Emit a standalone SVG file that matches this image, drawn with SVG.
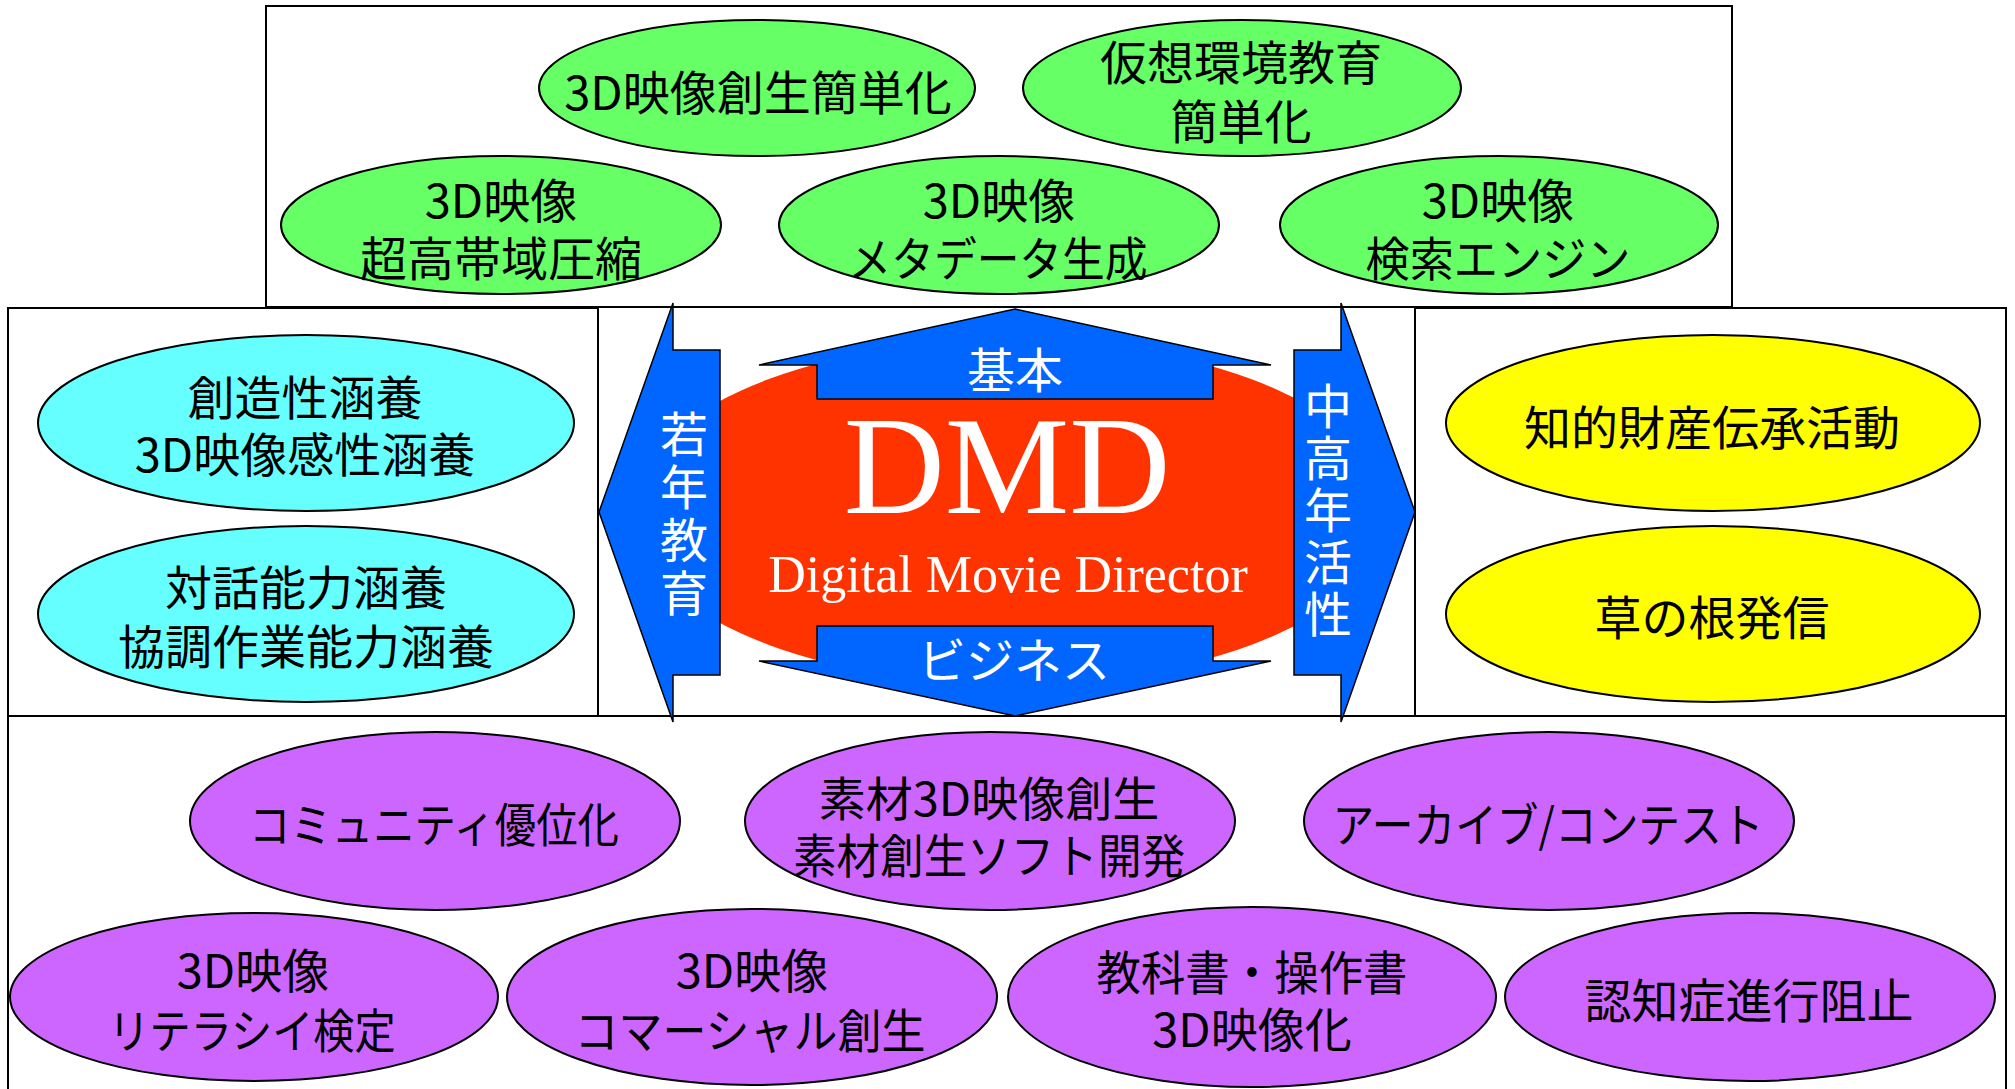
<svg xmlns="http://www.w3.org/2000/svg" width="2015" height="1089" viewBox="0 0 2015 1089">
<style>
.box{fill:none;stroke:#000;stroke-width:2}
.e{stroke:#000;stroke-width:2}
.g{fill:#66FF66}.c{fill:#66FFFF}.y{fill:#FFFF00}.p{fill:#CC66FF}
.t{font-family:"Noto Sans CJK JP",sans-serif;font-size:47px;text-anchor:middle;fill:#000}
.wt{font-family:"Noto Sans CJK JP",sans-serif;font-size:48px;text-anchor:middle;fill:#fff}
.vt{writing-mode:vertical-rl;text-orientation:upright}
.arr{fill:#0066FF;stroke:#000;stroke-width:1.5;stroke-linejoin:miter}
.serif{font-family:"Liberation Serif","Times New Roman",serif;text-anchor:middle;fill:#fff}
</style>
<rect width="2015" height="1089" fill="#fff"/>
<g id="frames">
<rect class="box" x="266" y="6" width="1466" height="301"/>
<rect class="box" x="8" y="308" width="590" height="408"/>
<rect class="box" x="1415" y="308" width="591" height="408"/>
<rect class="box" x="8" y="716" width="1998" height="380"/>
</g>
<g id="n-top1"><ellipse class="e g" cx="757" cy="88" rx="218" ry="68"/><text class="t" x="758" y="110">3D映像創生簡単化</text></g>
<g id="n-top2"><ellipse class="e g" cx="1242" cy="88" rx="219" ry="68"/><text class="t" x="1241" y="80">仮想環境教育</text><text class="t" x="1241" y="139">簡単化</text></g>
<g id="n-top3"><ellipse class="e g" cx="501" cy="225" rx="220" ry="69"/><text class="t" x="501" y="218">3D映像</text><text class="t" x="501" y="276">超高帯域圧縮</text></g>
<g id="n-top4"><ellipse class="e g" cx="999" cy="225" rx="220" ry="69"/><text class="t" x="999" y="218">3D映像</text><text class="t" x="998" y="276" textLength="299" lengthAdjust="spacingAndGlyphs">メタデータ生成</text></g>
<g id="n-top5"><ellipse class="e g" cx="1499" cy="225" rx="219" ry="69"/><text class="t" x="1498" y="218">3D映像</text><text class="t" x="1498" y="276" textLength="265" lengthAdjust="spacingAndGlyphs">検索エンジン</text></g>
<g id="n-left1"><ellipse class="e c" cx="306" cy="423" rx="268" ry="88"/><text class="t" x="305" y="415">創造性涵養</text><text class="t" x="305" y="472">3D映像感性涵養</text></g>
<g id="n-left2"><ellipse class="e c" cx="306" cy="614" rx="268" ry="88"/><text class="t" x="306" y="605">対話能力涵養</text><text class="t" x="306" y="664">協調作業能力涵養</text></g>
<g id="n-right1"><ellipse class="e y" cx="1713" cy="423" rx="267" ry="88"/><text class="t" x="1712" y="445">知的財産伝承活動</text></g>
<g id="n-right2"><ellipse class="e y" cx="1713" cy="614" rx="267" ry="88"/><text class="t" x="1712" y="635">草の根発信</text></g>
<g id="n-bot1"><ellipse class="e p" cx="435" cy="821" rx="245" ry="89"/><text class="t" x="434" y="842" textLength="370" lengthAdjust="spacingAndGlyphs">コミュニティ優位化</text></g>
<g id="n-bot2"><ellipse class="e p" cx="990" cy="821" rx="245" ry="89"/><text class="t" x="989" y="816">素材3D映像創生</text><text class="t" x="989" y="873" textLength="392" lengthAdjust="spacingAndGlyphs">素材創生ソフト開発</text></g>
<g id="n-bot3"><ellipse class="e p" cx="1549" cy="821" rx="245" ry="89"/><text class="t" x="1548" y="842" textLength="431" lengthAdjust="spacingAndGlyphs">アーカイブ/コンテスト</text></g>
<g id="n-bot4"><ellipse class="e p" cx="254" cy="997" rx="244" ry="84"/><text class="t" x="253" y="988">3D映像</text><text class="t" x="252" y="1048" textLength="287" lengthAdjust="spacingAndGlyphs">リテラシイ検定</text></g>
<g id="n-bot5"><ellipse class="e p" cx="752" cy="997" rx="245" ry="88"/><text class="t" x="752" y="988">3D映像</text><text class="t" x="750" y="1048" textLength="351" lengthAdjust="spacingAndGlyphs">コマーシャル創生</text></g>
<g id="n-bot6"><ellipse class="e p" cx="1252" cy="997" rx="244" ry="90"/><text class="t" x="1252" y="990" textLength="311" lengthAdjust="spacingAndGlyphs">教科書・操作書</text><text class="t" x="1252" y="1047">3D映像化</text></g>
<g id="n-bot7"><ellipse class="e p" cx="1750" cy="997" rx="245" ry="84"/><text class="t" x="1749" y="1018">認知症進行阻止</text></g>
<g id="n-dmd">
<ellipse cx="1010" cy="512" rx="380" ry="172" fill="#FF3300"/>
<text class="serif" x="1007" y="513" font-size="140">DMD</text>
<text class="serif" x="1008" y="592" font-size="52">Digital Movie Director</text>
</g>
<g id="connectors">
<g id="a-top"><polygon class="arr" points="1015,309 1271,365 1213,365 1213,399 817,399 817,365 759,365"/><text class="wt" x="1015" y="388">基本</text></g>
<g id="a-bottom"><polygon class="arr" points="1015,716 1271,661 1213,661 1213,626 817,626 817,661 759,661"/><text class="wt" x="1014" y="678">ビジネス</text></g>
<g id="a-left"><polygon class="arr" points="599,512 673,303 673,350 720,350 720,675 673,675 673,722"/>
<text class="wt vt" x="684" y="516" letter-spacing="5">若年教育</text></g>
<g id="a-right"><polygon class="arr" points="1415,512 1341,303 1341,350 1294,350 1294,675 1341,675 1341,722"/>
<text class="wt vt" x="1328" y="512" letter-spacing="4">中高年活性</text></g>
</g>
</svg>
